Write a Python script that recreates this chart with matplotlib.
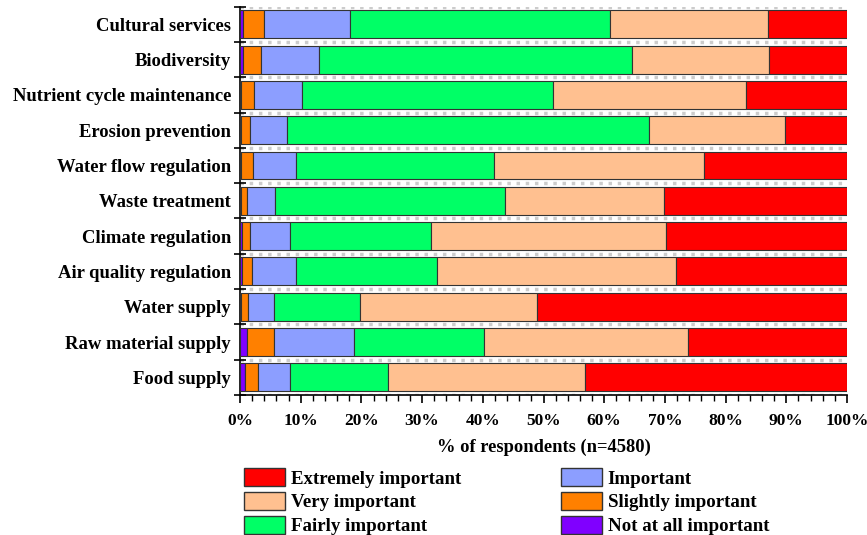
import numpy as np
import matplotlib.pyplot as plt
from matplotlib.patches import Patch
from matplotlib.ticker import MultipleLocator, PercentFormatter

plt.rcParams['font.family'] = ['Liberation Serif', 'DejaVu Serif']
plt.rcParams['font.weight'] = 'bold'

# categories listed bottom to top
services = ['Food supply', 'Raw material supply', 'Water supply', 'Air quality regulation',
            'Climate regulation', 'Waste treatment', 'Water flow regulation',
            'Erosion prevention', 'Nutrient cycle maintenance', 'Biodiversity',
            'Cultural services']

# % of respondents per level
not_at_all = [0.8, 1.2, 0.2, 0.3, 0.3, 0.2, 0.2, 0.2, 0.2, 0.5, 0.5]
slightly = [2.2, 4.4, 1.2, 1.7, 1.4, 1.0, 1.9, 1.5, 2.1, 2.9, 3.4]
important = [5.2, 13.1, 4.2, 7.3, 6.5, 4.5, 7.2, 6.1, 7.9, 9.6, 14.2]
fairly = [16.2, 21.5, 14.1, 23.2, 23.2, 37.9, 32.6, 59.5, 41.3, 51.5, 42.9]
very = [32.5, 33.6, 29.2, 39.3, 38.7, 26.3, 34.6, 22.4, 31.8, 22.7, 25.9]
extremely = [43.1, 26.2, 51.1, 28.2, 29.9, 30.1, 23.5, 10.3, 16.7, 12.8, 13.1]

levels = ['Not at all important', 'Slightly important', 'Important',
          'Fairly important', 'Very important', 'Extremely important']
colors = ['#8000FF', '#FF8000', '#8C9EFF', '#00FF66', '#FFC090', '#FF0000']
series = [not_at_all, slightly, important, fairly, very, extremely]

fig, ax = plt.subplots(figsize=(8.67, 5.35), dpi=100)
fig.subplots_adjust(left=0.2768, right=0.977, top=0.9875, bottom=0.2617)

y = np.arange(len(services))
left = np.zeros(len(services))
for vals, col, lab in zip(series, colors, levels):
    vals = np.array(vals)
    ax.barh(y, vals, left=left, height=0.79, color=col, edgecolor='#333333',
            linewidth=0.8, label=lab, zorder=3)
    left += vals

ax.set_xlim(0, 100)
ax.set_ylim(-0.5, len(services) - 0.5)
ax.set_yticks(y)
ax.set_yticklabels(services, fontsize=13.4, fontweight='bold')
ax.set_yticks(np.arange(-0.5, len(services)), minor=True)
ax.tick_params(axis='y', which='major', length=0, pad=6.5)
ax.tick_params(axis='y', which='minor', length=8, width=1.2, direction='inout')
ax.grid(axis='y', which='minor', color='#cccccc', linestyle=':', linewidth=2.5, zorder=1)

ax.xaxis.set_major_locator(MultipleLocator(10))
ax.xaxis.set_minor_locator(MultipleLocator(2))
ax.xaxis.set_major_formatter(PercentFormatter(decimals=0))
ax.tick_params(axis='x', which='major', length=6, width=1.2, labelsize=12.5, pad=7)
ax.tick_params(axis='x', which='minor', length=4, width=1)
for t in ax.get_xticklabels():
    t.set_fontweight('bold')
ax.set_xlabel('% of respondents (n=4580)', fontsize=13.3, fontweight='bold', labelpad=7)

for s in ['top', 'right']:
    ax.spines[s].set_visible(False)
for s in ['left', 'bottom']:
    ax.spines[s].set_linewidth(1.2)

order = [5, 4, 3, 2, 1, 0]
handles = [Patch(facecolor=colors[i], edgecolor='#333333', label=levels[i]) for i in order]
fig.legend(handles=handles, ncol=2, loc='upper left', bbox_to_anchor=(0.2814, 0.125),
           frameon=False, prop={'size': 13.6, 'weight': 'bold'},
           handlelength=2.17, handleheight=1.1, handletextpad=0.3,
           labelspacing=0.23, columnspacing=5.3, borderaxespad=0, borderpad=0)

fig.savefig('out.png', dpi=100)
